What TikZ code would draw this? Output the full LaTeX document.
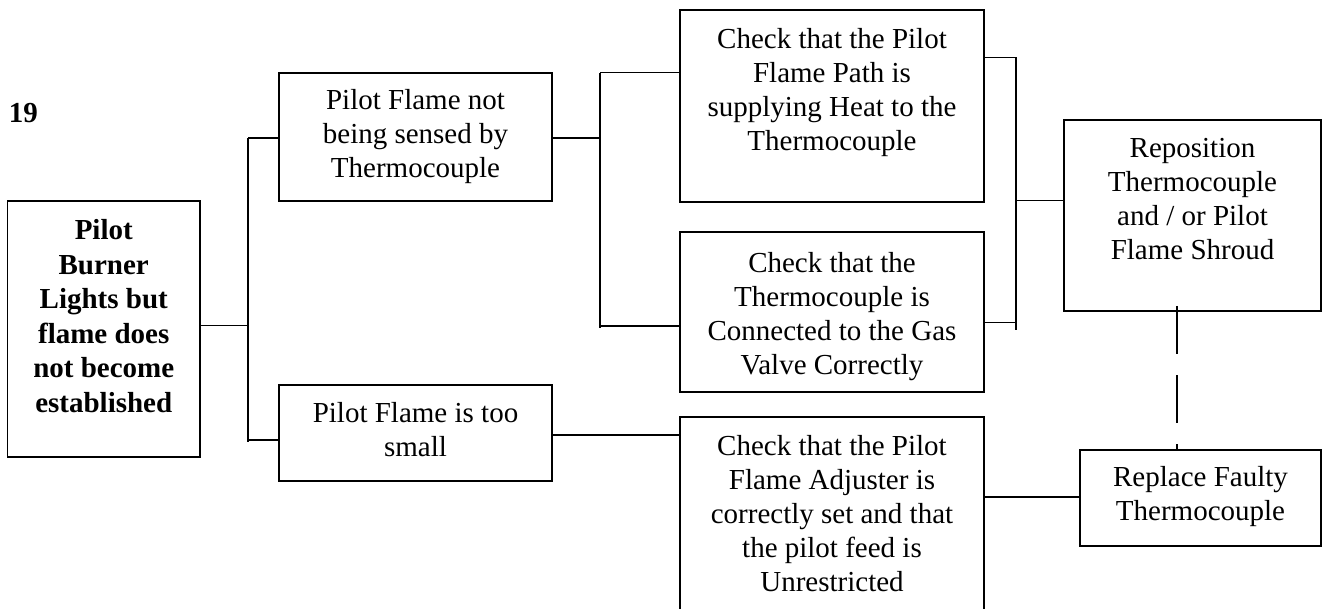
\documentclass[tikz,border=0pt]{standalone}
\usepackage{fontspec}
\setmainfont{Liberation Serif}
\begin{document}
\begin{tikzpicture}[x=1pt,y=-1pt,
  box/.style={draw,line width=1.7pt,inner sep=0pt,minimum width=#1},
  txt/.style={inner sep=0pt,align=center,font=\fontsize{29}{34}\selectfont},
  btxt/.style={inner sep=0pt,align=center,font=\fontsize{29}{34.5}\selectfont\bfseries},
  conn/.style={line width=1.4pt},
  dconn/.style={line width=1.4pt,dash pattern=on 48pt off 21pt}]
\clip (0,0) rectangle (1330,609);
\fill[white] (0,0) rectangle (1330,609);
% boxes
\node[box=192.5pt,minimum height=256pt] (main) at (103.75,329) {};
\node[box=273pt,minimum height=128pt] (pf1) at (415.5,137) {};
\node[box=273pt,minimum height=96pt] (pf2) at (415.5,433) {};
\node[box=304pt,minimum height=192pt] (c1) at (832,106) {};
\node[box=304pt,minimum height=160pt] (c2) at (832,312) {};
\node[box=304pt,minimum height=223pt] (c3) at (832,528.5) {};
\node[box=257pt,minimum height=191pt] (rep) at (1192.5,215.5) {};
\node[box=241pt,minimum height=96pt] (repl) at (1200.5,498) {};
% texts
\node[btxt] (fig) at (23.5,113) {19};
\node[btxt,anchor=north] (maint) at (103.75,219.5) {Pilot\\Burner\\Lights but\\flame does\\not become\\established};
\node[txt] (pf1t) at (415.5,137) {Pilot Flame not\\being sensed by\\Thermocouple};
\node[txt] (pf2t) at (415.5,430) {Pilot Flame is too\\small};
\node[txt,anchor=north] (c1t) at (832,28.5) {Check that the Pilot\\Flame Path is\\supplying Heat to the\\Thermocouple};
\node[txt,anchor=north] (c2t) at (832,252) {Check that the\\Thermocouple is\\Connected to the Gas\\Valve Correctly};
\node[txt,anchor=north] (c3t) at (832,435) {Check that the Pilot\\Flame Adjuster is\\correctly set and that\\the pilot feed is\\Unrestricted};
\node[txt,anchor=north] (rept) at (1192.5,138.5) {Reposition\\Thermocouple\\and / or Pilot\\Flame Shroud};
\node[txt] (replt) at (1200.5,497) {Replace Faulty\\Thermocouple};
% bus coordinates
\coordinate (b1top) at (248,138);
\coordinate (b1bot) at (248,441.7);
\coordinate (b1mid) at (248,325.7);
\coordinate (b1low) at (248,440);
\coordinate (b2top) at (600,72.7);
\coordinate (b2bot) at (600,328);
\coordinate (b2mid) at (600,138);
\coordinate (b2low) at (600,326);
\coordinate (l3) at (600,435);
\coordinate (b3top) at (1016,57.5);
\coordinate (b3bot) at (1016,329.6);
\coordinate (b3mid) at (1016,200.7);
\coordinate (b3low) at (1016,322.6);
\coordinate (l4) at (1016,497);
\coordinate (dtop) at (1177,306);
% connectors
\draw[conn] (main.east |- b1mid) -- (b1mid);
\draw[conn] (b1top) -- (b1bot);
\draw[conn] (b1top) -- (b1top -| pf1.west);
\draw[conn] (b1low) -- (b1low -| pf2.west);
\draw[conn] (pf1.east |- b2mid) -- (b2mid);
\draw[conn] (b2top) -- (b2bot);
\draw[conn] (b2top) -- (b2top -| c1.west);
\draw[conn] (b2low) -- (b2low -| c2.west);
\draw[conn] (pf2.east |- l3) -- (l3 -| c3.west);
\draw[conn] (c1.east |- b3top) -- (b3top) -- (b3bot);
\draw[conn] (c2.east |- b3low) -- (b3low);
\draw[conn] (b3mid) -- (b3mid -| rep.west);
\draw[conn] (c3.east |- l4) -- (l4 -| repl.west);
\draw[dconn] (dtop) -- (dtop |- repl.north);
\end{tikzpicture}
\end{document}
